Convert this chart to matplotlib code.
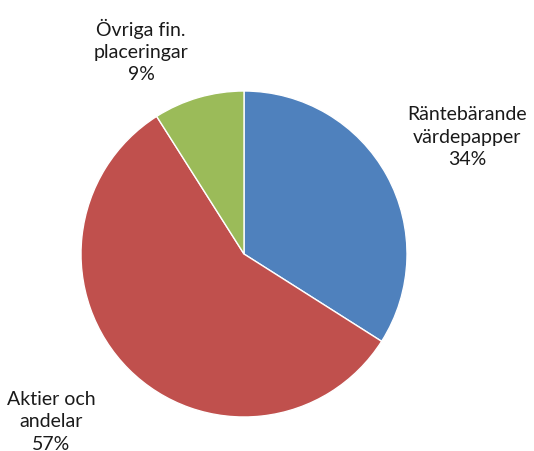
import matplotlib.pyplot as plt

categories = ["Räntebärande\nvärdepapper", "Aktier och\nandelar", "Övriga fin.\nplaceringar"]
shares = [34, 57, 9]
colors = ["#4F81BD", "#C0504D", "#9BBB59"]

plt.rcParams['font.family'] = ['Lato', 'DejaVu Sans']

fig = plt.figure(figsize=(5.34, 4.52), dpi=100)
ax = fig.add_axes([0, 0, 1, 1])
ax.set_xlim(0, 534)
ax.set_ylim(0, 452)

ax.pie(shares, colors=colors, startangle=90, counterclock=False,
       center=(244, 197), radius=163, frame=True,
       wedgeprops=dict(edgecolor="white", linewidth=1))
ax.set_aspect("equal")
ax.axis("off")

# label positions (pixel coords, y up)
label_pos = [(467, 315), (51, 30), (141, 401)]
for name, val, (x, y) in zip(categories, shares, label_pos):
    ax.text(x, y, f"{name}\n{val}%", ha="center", va="center",
            fontsize=14, linespacing=1.38, color="#1a1a1a")

fig.savefig("out.png", dpi=100)
